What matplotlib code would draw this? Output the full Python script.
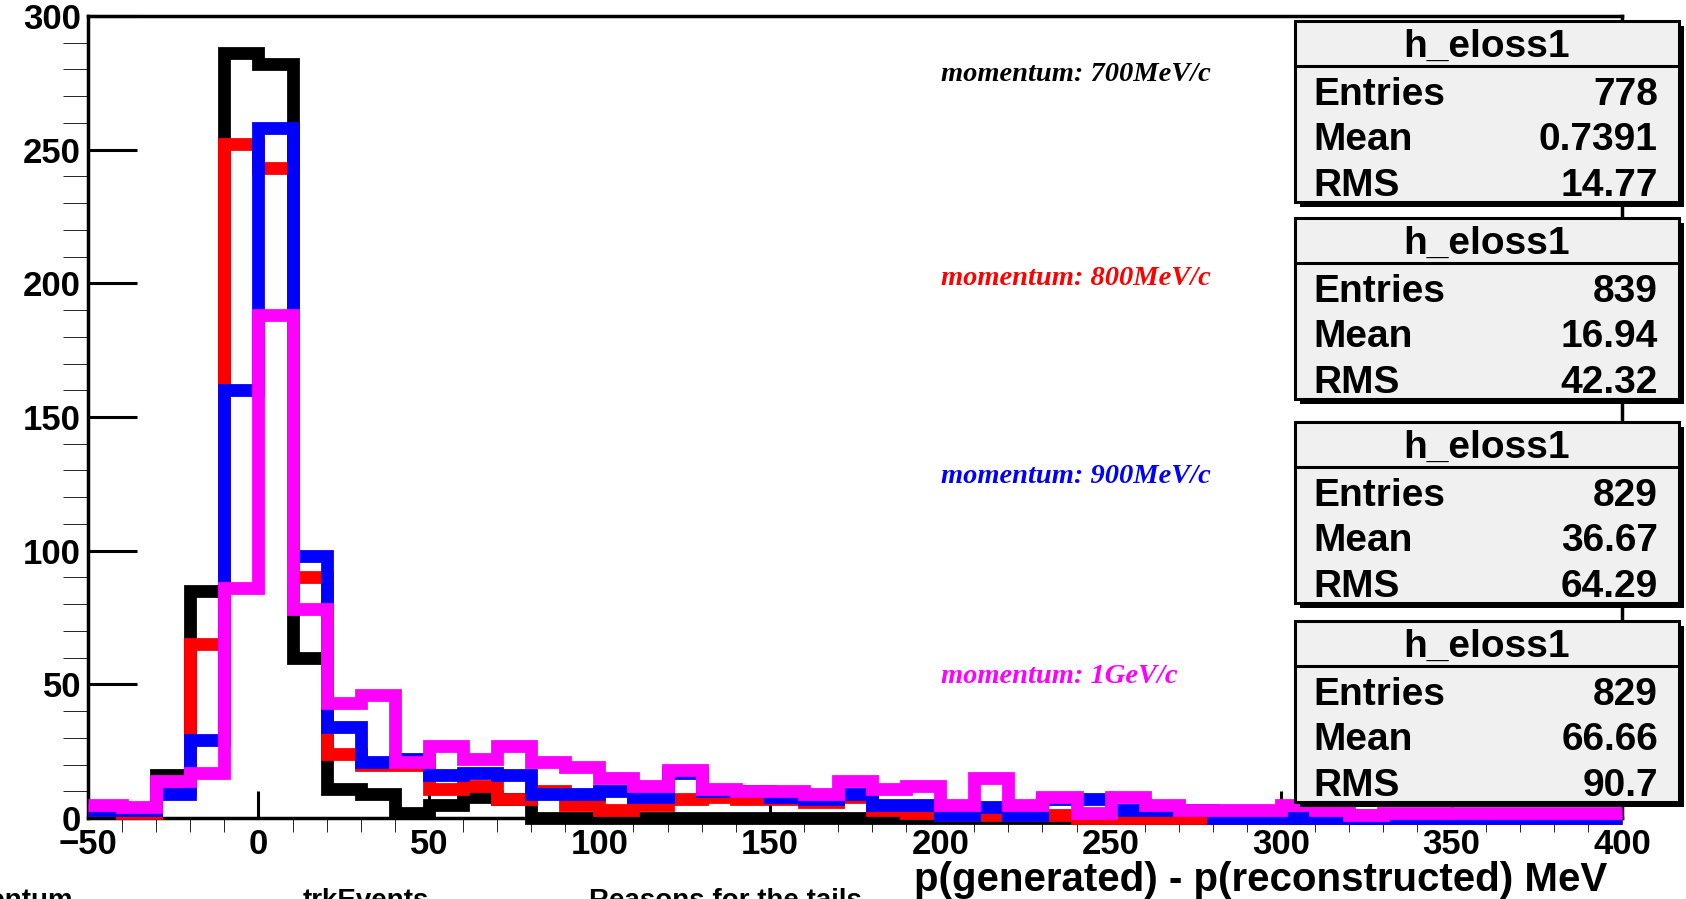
import matplotlib
matplotlib.use('Agg')
import matplotlib.pyplot as plt
from matplotlib import patches
import numpy as np

plt.rcParams['font.family'] = ['Liberation Sans', 'DejaVu Sans']

# energy loss histograms, 10 MeV bins from -50 to 400
edges = np.arange(-50, 401, 10)
h700 = [4, 3, 16, 85, 286, 282, 60, 11, 9, 2, 5, 8, 7, 0, 0, 0, 0, 0, 0, 0, 0, 0, 0, 0, 0,
        0, 0, 0, 0, 0, 0, 0, 0, 0, 0, 0, 0, 0, 0, 0, 0, 0, 0, 0, 0]
h800 = [3, 2, 11, 65, 252, 243, 90, 24, 20, 20, 11, 12, 7, 10, 5, 3, 5, 7, 8, 7, 7, 6, 8, 3, 2,
        1, 1, 1, 1, 0, 0, 0, 0, 0, 0, 1, 0, 1, 0, 0, 0, 0, 0, 0, 0]
h900 = [3, 3, 9, 29, 160, 258, 98, 34, 21, 22, 16, 17, 16, 9, 9, 10, 8, 17, 10, 10, 8, 7, 9, 5, 5,
        1, 4, 1, 7, 7, 3, 3, 3, 0, 0, 0, 0, 0, 0, 0, 0, 0, 0, 0, 0]
h1000 = [5, 4, 14, 17, 86, 188, 78, 43, 46, 21, 27, 22, 27, 21, 19, 15, 12, 18, 11, 10, 10, 9, 14, 11, 12,
         5, 15, 5, 8, 2, 8, 5, 3, 3, 3, 5, 3, 1, 2, 2, 2, 2, 2, 2, 2]

hists = [h700, h800, h900, h1000]
colors = ['black', 'red', 'blue', 'magenta']
labels = ['momentum: 700MeV/c', 'momentum: 800MeV/c', 'momentum: 900MeV/c', 'momentum: 1GeV/c']

# stat box contents
entries = ['778', '839', '829', '829']
means = ['0.7391', '16.94', '36.67', '66.66']
rms = ['14.77', '42.32', '64.29', '90.7']

W, H = 1686, 899
fig = plt.figure(figsize=(W / 100, H / 100), dpi=100)
ax = fig.add_axes([88 / W, 1 - 818 / H, (1622 - 88) / W, (818 - 16) / H])

for h, c in zip(hists, colors):
    st = ax.stairs(h, edges, baseline=None, color=c, lw=9.2, zorder=3)
    st.set_clip_on(False)
    st.set_joinstyle('miter')
    st.set_capstyle('butt')

ax.set_xlim(-50, 400)
ax.set_ylim(0, 300)
ax.set_xticks(np.arange(-50, 401, 50))
ax.set_xticks(np.arange(-50, 401, 10), minor=True)
ax.set_yticks(np.arange(0, 301, 50))
ax.set_yticks(np.arange(0, 301, 10), minor=True)
ax.tick_params(axis='both', direction='in', width=2.2, labelsize=25)
ax.tick_params(axis='y', which='major', length=35, pad=5)
ax.tick_params(axis='y', which='minor', length=18)
ax.tick_params(axis='x', which='major', length=19.5, pad=7)
ax.tick_params(axis='x', which='minor', length=10)
for lab in ax.get_xticklabels() + ax.get_yticklabels():
    lab.set_fontweight('bold')
for sp in ax.spines.values():
    sp.set_linewidth(2.5)

# overlay in pixel coordinates for stat boxes and free text
ov = fig.add_axes([0, 0, 1, 1], zorder=5)
ov.set_xlim(0, W)
ov.set_ylim(H, 0)
ov.axis('off')
ov.patch.set_alpha(0)

ov.text(1607, 880, 'p(generated) - p(reconstructed) MeV', ha='right', va='center',
        fontsize=29, fontweight='bold')

label_y = [81, 285, 483, 683]
for txt, c, y in zip(labels, colors, label_y):
    ov.text(941, y, txt, color=c, ha='left', va='baseline', fontsize=20.5,
            family='Liberation Serif', fontweight='bold', style='italic')

box_top = [21, 218, 422, 621]
x0, x1 = 1295, 1679
bh = 181
for y0, e, m, r in zip(box_top, entries, means, rms):
    ov.add_patch(patches.Rectangle((x0 + 5, y0 + 5), x1 - x0, bh, facecolor='black',
                                   edgecolor='none'))
    ov.add_patch(patches.Rectangle((x0, y0), x1 - x0, bh, facecolor='#f0f0f0',
                                   edgecolor='black', lw=2.2))
    ov.plot([x0, x1], [y0 + 45, y0 + 45], color='black', lw=2.2)
    ov.text((x0 + x1) / 2, y0 + 36, 'h_eloss1', ha='center', va='baseline',
            fontsize=28, fontweight='bold')
    for name, val, dy in [('Entries', e, 84), ('Mean', m, 129), ('RMS', r, 175)]:
        ov.text(1313, y0 + dy, name, ha='left', va='baseline', fontsize=28, fontweight='bold')
        ov.text(1658, y0 + dy, val, ha='right', va='baseline', fontsize=28, fontweight='bold')

# column headings from the page below, cut by the frame
ov.text(73, 888, 'momentum', ha='right', va='top', fontsize=20, fontweight='bold')
ov.text(303, 888, 'trkEvents', ha='left', va='top', fontsize=20, fontweight='bold')
ov.text(589, 888, 'Reasons for the tails', ha='left', va='top', fontsize=20, fontweight='bold')

fig.savefig('out.png', dpi=100)
